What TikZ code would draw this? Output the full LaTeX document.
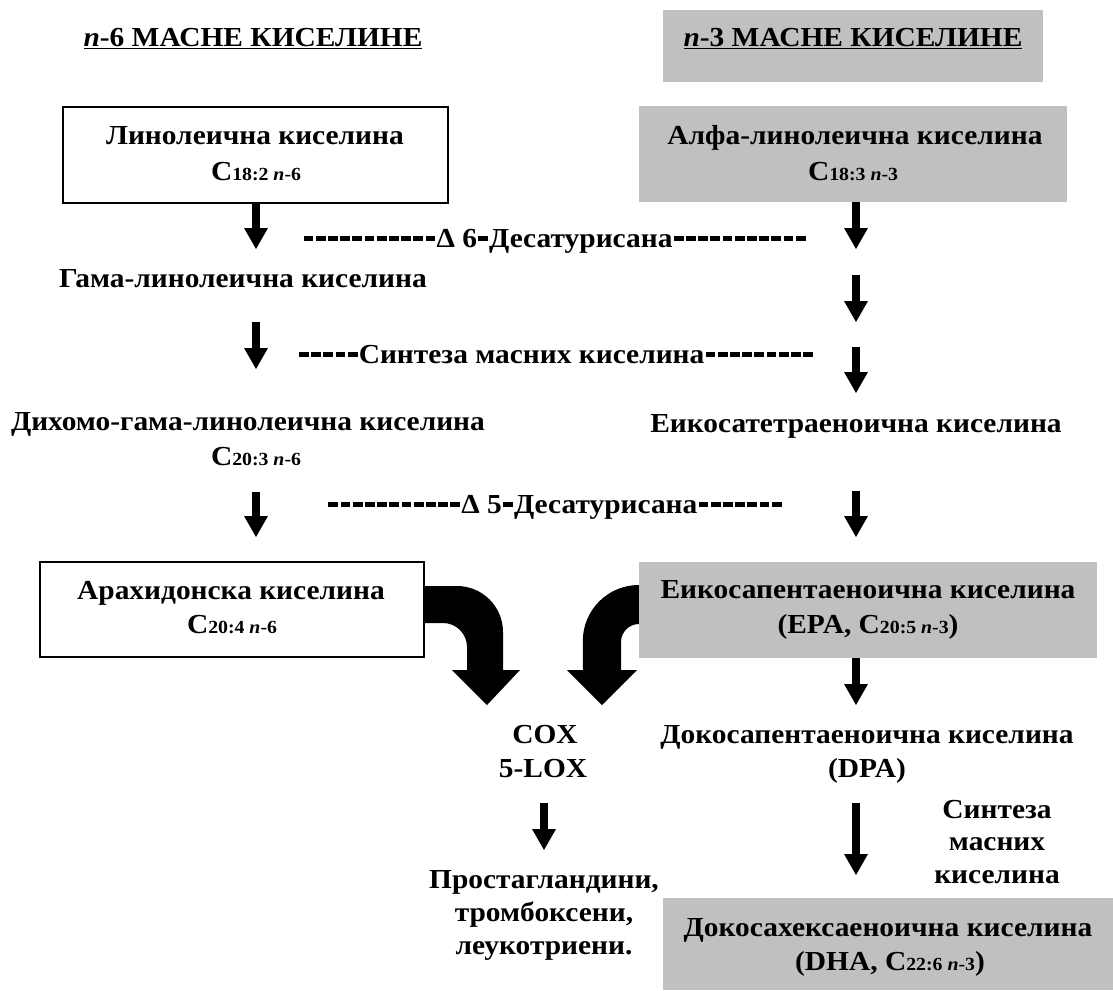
\documentclass[tikz,border=0pt]{standalone}
\usepackage{fontspec}
\setmainfont{Liberation Serif}[FakeStretch=1.07]
\usetikzlibrary{arrows.meta,backgrounds}
\definecolor{boxgray}{RGB}{192,192,192}
\newcommand\mainsz{\fontsize{27.5}{33}\selectfont\bfseries}
\newcommand\subsz{\fontsize{18.5}{20}\selectfont}
\newcommand\fml[2]{C{\subsz#1 \textit{n}-#2}}
\newcommand\onedash{\hbox to 12.2pt{\hss\rule[6.5pt]{9.8pt}{4.4pt}\hss}}
\newcommand\dd[1]{\foreach\i in {1,...,#1}{\onedash}}
\begin{document}
\begin{tikzpicture}[x=1pt,y=-1pt,
  txt/.style={font=\mainsz, inner sep=0pt, anchor=base},
  wbox/.style={draw, line width=1.5pt, fill=white, inner sep=0pt},
  gbox/.style={fill=boxgray, inner sep=0pt},
  arr/.style={line width=8pt, -{Triangle[width=24pt,length=21pt,line width=0pt]}},
  bigarr/.style={fill=black}]
\path[use as bounding box] (0,0) rectangle (1113,990);
\begin{scope}[on background layer]
\fill[white] (0,0) rectangle (1113,990);
\end{scope}

% headers
\node[txt] (h6) at (253,47) {\underline{\textit{n}-6 МАСНЕ КИСЕЛИНЕ}};
\node[gbox, minimum width=380pt, minimum height=72pt] (h3box) at (853,46) {};
\node[txt] (h3) at (853,47) {\underline{\textit{n}-3 МАСНЕ КИСЕЛИНЕ}};

% boxes
\node[wbox, minimum width=385pt, minimum height=96pt] (lin) at (255.5,155) {};
\node[txt] (lin1) at (255,144) {Линолеична киселина};
\node[txt] (lin2) at (256,180) {\fml{18:2}{6}};

\node[gbox, minimum width=428pt, minimum height=96pt] (alfa) at (853,154) {};
\node[txt] (alfa1) at (855,144) {Алфа-линолеична киселина};
\node[txt] (alfa2) at (853,180) {\fml{18:3}{3}};

\node[txt] (d1) at (554.5,247) {\dd{11}Δ 6\onedash Десатурисана\dd{11}};
\node[txt] (gama) at (243,287) {Гама-линолеична киселина};
\node[txt] (d2) at (556,363) {\dd{5}Синтеза масних киселина\dd{9}};
\node[txt] (dih1) at (248,430) {Дихомо-гама-линолеична киселина};
\node[txt] (dih2) at (256,465) {\fml{20:3}{6}};
\node[txt] (eik) at (856,432) {Еикосатетраеноична киселина};
\node[txt] (d3) at (555,513) {\dd{11}Δ 5\onedash Десатурисана\dd{7}};

\node[wbox, minimum width=384pt, minimum height=95pt] (ara) at (232,609.5) {};
\node[txt] (ara1) at (231,599) {Арахидонска киселина};
\node[txt] (ara2) at (232,633) {\fml{20:4}{6}};

\node[gbox, minimum width=458pt, minimum height=96pt] (epa) at (868,610) {};
\node[txt] (epa1) at (868,598) {Еикосапентаеноична киселина};
\node[txt] (epa2) at (868,633) {(EPA, \fml{20:5}{3})};

\node[txt] (cox1) at (545,743) {COX};
\node[txt] (cox2) at (543,777) {5-LOX};
\node[txt] (pro1) at (544,888) {Простагландини,};
\node[txt] (pro2) at (544,921) {тромбоксени,};
\node[txt] (pro3) at (544,954) {леукотриени.};

\node[txt] (dpa1) at (867,743) {Докосапентаеноична киселина};
\node[txt] (dpa2) at (867,777) {(DPA)};
\node[txt] (syn1) at (997,818) {Синтеза};
\node[txt] (syn2) at (997,850) {масних};
\node[txt] (syn3) at (997,883) {киселина};

\node[gbox, minimum width=450pt, minimum height=92pt] (dha) at (888,944) {};
\node[txt] (dha1) at (888,936) {Докосахексаеноична киселина};
\node[txt] (dha2) at (890,970) {(DHA, \fml{22:6}{3})};

% arrow end points
\coordinate (l1) at (256,249);
\coordinate (l2s) at (256,322); \coordinate (l2) at (256,369);
\coordinate (l3s) at (256,492); \coordinate (l3) at (256,537);
\coordinate (r1) at (856,249);
\coordinate (r2s) at (856,275); \coordinate (r2) at (856,322);
\coordinate (r3s) at (856,347); \coordinate (r3) at (856,393);
\coordinate (r4s) at (856,491); \coordinate (r4) at (856,537);
\coordinate (c1s) at (544,803); \coordinate (c1) at (544,850);
\coordinate (p1s) at (856,803); \coordinate (p1) at (856,875);
\coordinate (ba) at (487,705);
\coordinate (be) at (602,705);

\draw[arr] (lin.south -| l1) -- (l1);
\draw[arr] (l2s) -- (l2);
\draw[arr] (l3s) -- (l3);
\draw[arr] (alfa.south -| r1) -- (r1);
\draw[arr] (r2s) -- (r2);
\draw[arr] (r3s) -- (r3);
\draw[arr] (r4s) -- (r4);
\draw[arr] (epa.south -| r4) -- (856,705);
\draw[arr] (c1s) -- (c1);
\draw[arr] (p1s) -- (p1);

\begin{scope}[on background layer]
% Arachidonic acid -> COX (curved block arrow)
\fill[bigarr] (ara.east |- 0,586) -- (457,586)
  arc[start angle=-90, end angle=0, radius=46] -- (503,670) -- (520,670)
  -- (ba) -- (452,670) -- (467,670) -- (467,647)
  arc[start angle=0, end angle=-90, radius=24] -- (ara.east |- 0,623) -- cycle;
% EPA -> COX (curved block arrow)
\fill[bigarr] (epa.west |- 0,585)
  arc[start angle=-90, end angle=-180, radius=56] -- (583,670) -- (567,670)
  -- (be) -- (637,670) -- (621,670) -- (621,642)
  arc[start angle=180, end angle=270, radius=18] -- cycle;
\end{scope}
\end{tikzpicture}
\end{document}
